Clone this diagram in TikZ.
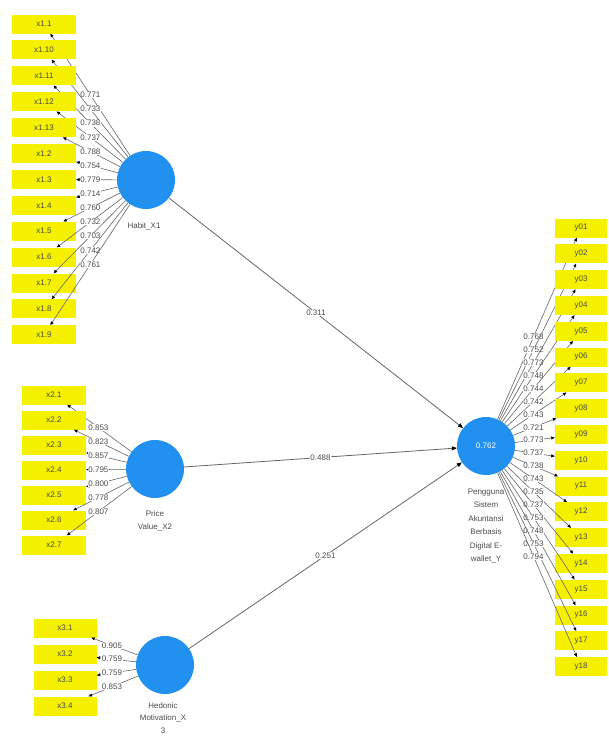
\documentclass[tikz,border=0pt]{standalone}
\usepackage{fontspec}
\setmainfont{Liberation Sans}
\usetikzlibrary{calc,arrows.meta}
\definecolor{plsYellow}{HTML}{F4F000}
\definecolor{plsBlue}{HTML}{2190EE}
\definecolor{plsLine}{HTML}{666666}
\definecolor{plsText}{HTML}{4A4A4A}

\begin{document}
\begin{tikzpicture}[x=1pt, y=-1pt,
  every node/.style={font=\fontsize{8}{9}\selectfont, text=plsText},
  ind/.style={fill=plsYellow, minimum width=64pt, minimum height=19pt, inner sep=0pt},
  lv/.style={circle, fill=plsBlue, minimum size=58pt, inner sep=0pt},
  lvlabel/.style={align=center, anchor=north, font=\fontsize{8}{13.5}\selectfont},
  load/.style={fill=white, inner sep=0.5pt},
  outer/.style={plsLine, line width=0.6pt, -{Triangle[length=3.5pt, width=3pt, color=black]}},
  inner/.style={plsLine, line width=0.8pt, -{Triangle[length=5pt, width=4pt, color=black]}},
]
\useasboundingbox (0,0) rectangle (608,736);
\clip (0,0) rectangle (608,736);

% Constructs
\node[lv] (habit) at (146,180) {};
\node[lv] (price) at (155,469) {};
\node[lv] (hedon) at (165,665) {};
\node[lv, text=white] (pengguna) at (486,446) {0.762};

% Construct names
\node[lvlabel] at (144,219) {Habit\_X1};
\node[lvlabel] at (155,507) {Price\\Value\_X2};
\node[lvlabel, font=\fontsize{8}{12.5}\selectfont] at (163,699) {Hedonic\\Motivation\_X\\3};
\node[lvlabel] at (486,485) {Pengguna\\Sistem\\Akuntansi\\Berbasis\\Digital E-\\wallet\_Y};

% Indicators of Habit_X1
\foreach \i/\t/\l in {1/1/0.771, 2/10/0.733, 3/11/0.738, 4/12/0.737, 5/13/0.788,
    6/2/0.754, 7/3/0.779, 8/4/0.714, 9/5/0.760, 10/6/0.732, 11/7/0.703,
    12/8/0.742, 13/9/0.761} {
  \node[ind] (xa\i) at (44,{24+25.9*(\i-1)}) {x1.\t};
  \draw[outer] (habit) -- (xa\i);
  \node[load] at ($(habit)!0.545!(xa\i)$) {\l};
}

% Indicators of Price Value_X2
\foreach \i/\l in {1/0.853, 2/0.823, 3/0.857, 4/0.795, 5/0.800, 6/0.778, 7/0.807} {
  \node[ind] (xb\i) at (54,{395+25*(\i-1)}) {x2.\i};
  \draw[outer] (price) -- (xb\i);
  \node[load] at ($(price)!0.56!(xb\i)$) {\l};
}

% Indicators of Hedonic Motivation_X3
\foreach \i/\l in {1/0.905, 2/0.759, 3/0.759, 4/0.853} {
  \node[ind, minimum width=63pt] (xc\i) at (65,{628+26*(\i-1)}) {x3.\i};
  \draw[outer] (hedon) -- (xc\i);
  \node[load] at ($(hedon)!0.53!(xc\i)$) {\l};
}

% Indicators of Pengguna ... _Y
\foreach \i/\t/\l in {1/01/0.768, 2/02/0.752, 3/03/0.773, 4/04/0.748, 5/05/0.744,
    6/06/0.742, 7/07/0.743, 8/08/0.721, 9/09/0.773, 10/10/0.737, 11/11/0.738,
    12/12/0.743, 13/13/0.735, 14/14/0.737, 15/15/0.753, 16/16/0.748,
    17/17/0.753, 18/18/0.794} {
  \node[ind, minimum width=52pt] (yy\i) at (581,{228+25.8*(\i-1)}) {y\t};
  \draw[outer] (pengguna) -- (yy\i);
  \node[load] at ($(pengguna)!0.5!(yy\i)$) {\l};
}

% Path coefficients
\draw[inner] (habit) -- node[load] {0.311} (pengguna);
\draw[inner] (price) -- node[load] {0.488} (pengguna);
\draw[inner] (hedon) -- node[load] {0.251} (pengguna);

\end{tikzpicture}
\end{document}
